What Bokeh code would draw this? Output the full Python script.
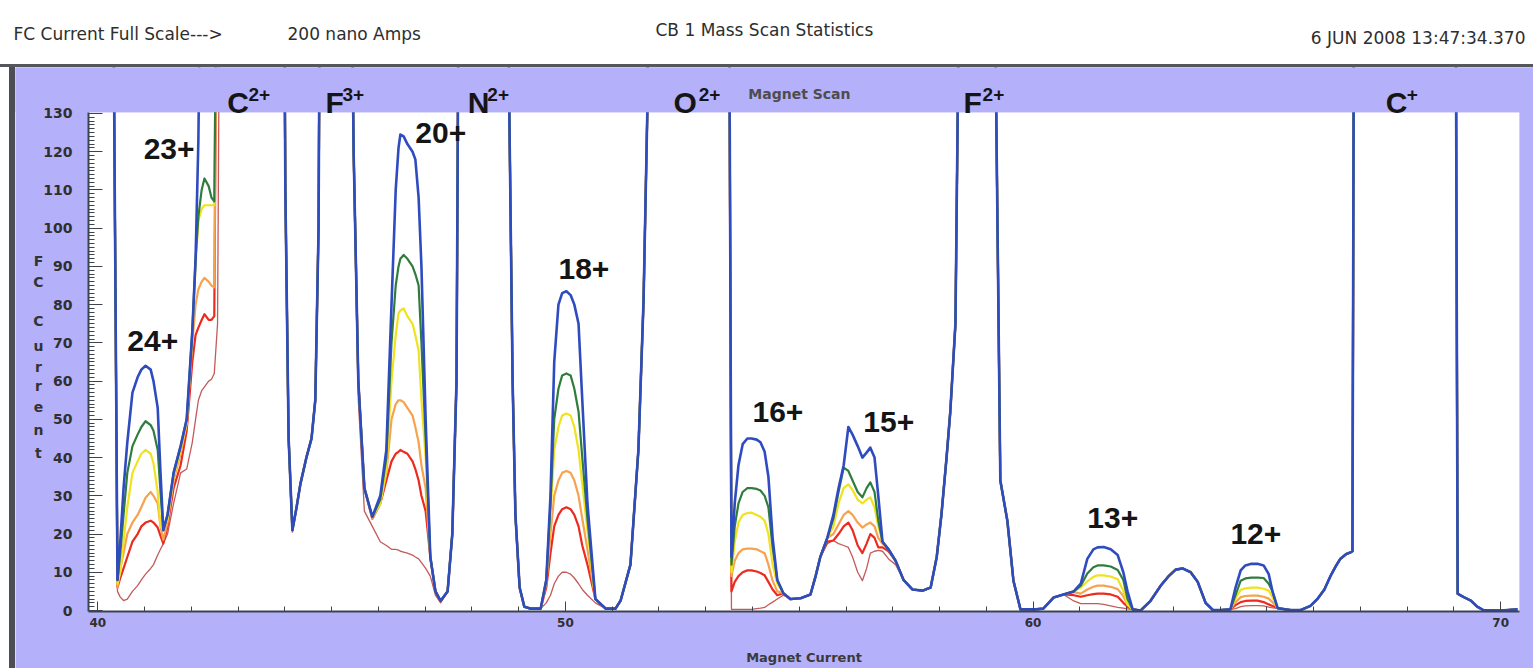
from bokeh.plotting import figure
from bokeh.models import Range1d, Label, SingleIntervalTicker, Div, BoxAnnotation
from bokeh.layouts import column, row
from bokeh.embed import file_html
from bokeh.resources import INLINE

# ---------------- data ----------------
magnet_current = [
    # C2+ / 24+ / 23+
    40.31, 40.42, 40.48, 40.55, 40.63, 40.74, 40.85, 40.93, 41.02, 41.13,
    41.19, 41.28, 41.34, 41.40, 41.49, 41.62, 41.77, 41.90, 42.02, 42.09,
    42.15, 42.22, 42.28, 42.37, 42.43, 42.49, 42.56, 42.62,
    # valley before F3+
    43.97, 44.01, 44.08, 44.16, 44.25, 44.33, 44.46, 44.57, 44.65, 44.72, 44.76,
    # 20+
    45.40, 45.47, 45.57, 45.70, 45.87, 46.04, 46.17, 46.28, 46.37, 46.43,
    46.47, 46.54, 46.62, 46.73, 46.79, 46.86, 46.92, 47.01, 47.11, 47.22,
    47.33, 47.48, 47.58, 47.67, 47.73,
    # 18+
    48.74, 48.80, 48.87, 48.93, 49.02, 49.12, 49.25, 49.47, 49.59, 49.68,
    49.76, 49.85, 49.93, 50.02, 50.11, 50.19, 50.28, 50.36, 50.47, 50.64,
    50.86, 51.07, 51.18, 51.39, 51.56, 51.67, 51.75, 51.82,
    # 16+ / 15+
    53.49, 53.55, 53.62, 53.70, 53.79, 53.89, 53.98, 54.09, 54.17, 54.26,
    54.34, 54.43, 54.53, 54.66, 54.81, 55.03, 55.24, 55.35, 55.45, 55.60,
    55.73, 55.84, 55.95, 56.05, 56.14, 56.25, 56.35, 56.44, 56.52, 56.61,
    56.69, 56.78, 56.91, 57.06, 57.23, 57.42, 57.64, 57.81, 57.94, 58.04,
    58.15, 58.23, 58.34, 58.45,
    # 13+ / 12+
    59.15, 59.24, 59.30, 59.45, 59.58, 59.73, 60.05, 60.22, 60.44, 60.65,
    60.87, 61.02, 61.16, 61.29, 61.38, 61.51, 61.66, 61.81, 61.93, 62.02,
    62.13, 62.30, 62.51, 62.73, 62.90, 63.05, 63.20, 63.37, 63.52, 63.69,
    63.84, 64.01, 64.22, 64.33, 64.44, 64.54, 64.67, 64.80, 64.93, 65.04,
    65.12, 65.23, 65.51, 65.72, 65.93, 66.08, 66.23, 66.36, 66.47, 66.57,
    66.70, 66.79, 66.83, 66.87,
    # after C+
    69.03, 69.08, 69.21, 69.36, 69.50, 69.63, 70.00, 70.36,
]

fc_blue = [
    200, 8, 18, 32, 44, 57, 61, 63, 64, 63,
    60, 53, 36, 21, 25, 36, 43, 50, 73, 92,
    123, 200, 200, 200, 200, 200, 200, 200,
    200, 110, 45, 21, 27, 33, 40, 45, 55, 100, 200,
    200, 120, 60, 32, 24.5, 30, 42, 80, 110, 121,
    124.5, 124, 122, 120, 118, 108, 90, 50, 14, 5,
    2.5, 5, 20, 60, 200,
    200, 130, 60, 25, 6, 1, 0.5, 0.5, 8, 30,
    65, 80, 83, 83.5, 82.5, 80, 75, 55, 28, 3,
    0.5, 0.5, 2.6, 12, 42, 81, 130, 200,
    200, 14, 28, 38, 43.5, 45, 45, 44.7, 44, 41.5,
    35, 19, 8, 4.5, 3, 3.2, 4.2, 9, 14, 19,
    25, 32, 38, 48, 46, 43, 40, 41.3, 42.6, 40,
    30, 18, 16, 13, 8, 5.5, 5.2, 6, 14, 25,
    40, 52, 75, 200,
    200, 100, 34, 23.5, 7.8, 0.3, 0.3, 0.5, 3.4, 4.2,
    5, 7, 13.5, 16, 16.5, 16.6, 16, 14.5, 10, 5,
    0.3, 0, 2.5, 6.5, 9, 10.7, 11, 10, 7.5, 2,
    0.2, 0.1, 0.3, 6, 10.5, 11.8, 12.2, 12.2, 11.8, 9.5,
    5, 0.6, 0.1, 0.1, 1.2, 3, 5.5, 9, 11.5, 13.5,
    14.8, 15.2, 15.5, 200,
    200, 4.4, 3.5, 2.6, 1, 0.1, 0, 0.3,
]

fc_green = [
    200, 8, 15, 25, 36, 43, 46, 48, 49.5, 48.5,
    47, 42, 31, 21, 25, 36, 43, 50, 73, 92,
    103, 110, 113, 111, 108, 107, 200, 200,
    200, 110, 45, 21, 27, 33, 40, 45, 55, 100, 200,
    200, 120, 60, 32, 24.5, 29, 40, 70, 85, 90,
    92, 93, 92, 90, 88, 85, 70, 45, 14, 5,
    2.5, 5, 20, 60, 200,
    200, 130, 60, 25, 6, 1, 0.5, 0.5, 8, 28,
    50, 58, 61.5, 62, 61.5, 58, 52, 40, 24, 3,
    0.5, 0.5, 2.6, 12, 42, 81, 130, 200,
    200, 12, 22, 28, 31, 32, 32, 31.8, 31.4, 30,
    27, 16.5, 8, 4.5, 3, 3.2, 4.2, 9, 14, 19,
    24, 31, 37.4, 36.5, 34, 31, 29.6, 32, 33.5, 31,
    23.5, 18, 16, 13, 8, 5.5, 5.2, 6, 14, 25,
    40, 52, 75, 200,
    200, 100, 34, 23.5, 7.8, 0.3, 0.3, 0.5, 3.4, 4.2,
    5, 6.5, 9.7, 11.3, 11.8, 11.8, 11.5, 10.6, 8, 3,
    0.3, 0, 2.5, 6.5, 9, 10.7, 11, 10, 7.5, 2,
    0.2, 0.1, 0.3, 4, 7.8, 8.4, 8.6, 8.6, 8.5, 7,
    5, 0.6, 0.1, 0.1, 1.2, 3, 5.5, 9, 11.5, 13.5,
    14.8, 15.2, 15.5, 200,
    200, 4.4, 3.5, 2.6, 1, 0.1, 0, 0.3,
]

fc_yellow = [
    200, 7, 10, 18, 27, 36, 39, 41, 42, 41,
    38.5, 31, 22, 21, 24, 35, 42, 49, 72, 90,
    102, 105, 106, 106, 106, 106, 200, 200,
    200, 110, 45, 21, 27, 33, 40, 45, 55, 100, 200,
    200, 120, 60, 32, 24.5, 28, 37, 60, 72, 77.7,
    78.5, 79, 77, 75, 72, 68, 55, 40, 14, 5,
    2.5, 5, 20, 60, 200,
    200, 130, 60, 25, 6, 1, 0.5, 0.5, 8, 25,
    42, 48, 51, 51.5, 51, 48, 42, 33, 21, 3,
    0.5, 0.5, 2.6, 12, 42, 81, 130, 200,
    200, 10, 18, 23, 25, 25.5, 25.6, 25, 24.5, 23.5,
    20, 12, 7, 4.5, 3, 3.2, 4.2, 9, 14, 19,
    22, 28, 32, 33, 31.5, 29, 28, 29, 29.6, 27,
    22, 18, 16, 13, 8, 5.5, 5.2, 6, 14, 25,
    40, 52, 75, 200,
    200, 100, 34, 23.5, 7.8, 0.3, 0.3, 0.5, 3.4, 4.2,
    5, 6, 7.6, 8.8, 9.2, 9.2, 8.9, 8.2, 5.2, 1.5,
    0.3, 0, 2.5, 6.5, 9, 10.7, 11, 10, 7.5, 2,
    0.2, 0.1, 0.3, 3.2, 5.4, 5.8, 6, 6, 5.7, 5.2,
    3.5, 0.6, 0.1, 0.1, 1.2, 3, 5.5, 9, 11.5, 13.5,
    14.8, 15.2, 15.5, 200,
    200, 4.4, 3.5, 2.6, 1, 0.1, 0, 0.3,
]

fc_orange = [
    200, 6, 11, 15, 20, 23, 25, 27, 29.5, 31,
    30, 28, 22, 18.5, 23, 34, 41, 49, 70, 80,
    84, 86, 87, 86, 85, 84.5, 200, 200,
    200, 110, 45, 21, 27, 33, 40, 45, 55, 100, 200,
    200, 120, 60, 32, 24, 28, 36, 50, 54, 55,
    55, 54.5, 53, 51, 48, 44, 38, 32, 14, 5,
    2.5, 5, 20, 60, 200,
    200, 130, 60, 25, 6, 1, 0.5, 0.5, 7, 20,
    30, 34, 36, 36.5, 36, 34, 30, 24, 16, 3,
    0.5, 0.5, 2.6, 12, 42, 81, 130, 200,
    200, 9, 13, 15, 16, 16.2, 16.2, 16, 15.5, 15,
    12, 7.8, 5, 4.5, 3, 3.2, 4.2, 9, 14, 19,
    20, 22.5, 25, 26, 25, 23, 21.7, 22.5, 23, 22,
    19, 17.5, 16, 13, 8, 5.5, 5.2, 6, 14, 25,
    40, 52, 75, 200,
    200, 100, 34, 23.5, 7.8, 0.3, 0.3, 0.5, 3.4, 4.2,
    4.8, 4.4, 5.5, 6.2, 6.5, 6.5, 6.2, 5.6, 3.8, 1.5,
    0.3, 0, 2.5, 6.5, 9, 10.7, 11, 10, 7.5, 2,
    0.2, 0.1, 0.3, 2.2, 3.5, 3.8, 3.9, 3.9, 3.6, 3.1,
    2.2, 0.6, 0.1, 0.1, 1.2, 3, 5.5, 9, 11.5, 13.5,
    14.8, 15.2, 15.5, 200,
    200, 4.4, 3.5, 2.6, 1, 0.1, 0, 0.3,
]

fc_red = [
    200, 6, 8.5, 11, 14, 18, 20, 22, 23, 23.5,
    23, 21.7, 19.5, 17.5, 22, 32, 38, 47, 65, 72,
    74, 76, 77.5, 76, 76, 77, 200, 200,
    200, 110, 45, 21, 27, 33, 40, 45, 55, 100, 200,
    200, 120, 60, 32, 24, 28, 34, 39, 41, 41.5,
    42, 41.5, 41, 39, 37, 34, 30, 26, 14, 5,
    2.5, 5, 20, 60, 200,
    200, 130, 60, 25, 6, 1, 0.5, 0.5, 6, 15,
    22, 25, 26.5, 27, 26.5, 25, 22, 17, 12, 3,
    0.5, 0.5, 2.6, 12, 42, 81, 130, 200,
    200, 5, 7.5, 9, 10, 10.5, 10.5, 10.2, 9.8, 9.2,
    7.5, 5.5, 4, 4.5, 3, 3.2, 4.2, 9, 14, 18,
    18.3, 20, 22, 23, 21, 17, 15, 17.5, 20, 19,
    16.5, 16.5, 15.5, 13, 8, 5.5, 5.2, 6, 14, 25,
    40, 52, 75, 200,
    200, 100, 34, 23.5, 7.8, 0.3, 0.3, 0.5, 3.4, 4.2,
    4, 3.6, 4, 4.3, 4.4, 4.4, 4.2, 3.6, 2, 1,
    0.3, 0, 2.5, 6.5, 9, 10.7, 11, 10, 7.5, 2,
    0.2, 0.1, 0.3, 1.4, 2.2, 2.5, 2.6, 2.6, 2.2, 1.6,
    1.2, 0.6, 0.1, 0.1, 1.2, 3, 5.5, 9, 11.5, 13.5,
    14.8, 15.2, 15.5, 200,
    200, 4.4, 3.5, 2.6, 1, 0.1, 0, 0.3,
]

fc_darkred = [
    200, 5, 3.5, 2.6, 3, 5, 6.5, 8, 9.5, 11,
    12, 14.5, 16, 17.5, 20, 28, 36, 37, 44, 50,
    55, 57.5, 58.5, 60, 60.5, 62, 75, 200,
    200, 110, 45, 20.5, 27, 33, 40, 45, 55, 100, 200,
    200, 120, 55, 26, 22, 18, 17, 16, 16, 15.8,
    15.5, 15.3, 15, 14.5, 14, 13.5, 12.5, 11, 9, 4,
    2, 5, 20, 60, 200,
    200, 130, 60, 25, 6, 1, 0.5, 0.5, 2, 4,
    7, 9, 10, 10, 9.5, 8.5, 7, 5.5, 4, 2,
    0.5, 0.5, 2.6, 12, 42, 81, 130, 200,
    200, 0.3, 0.3, 0.3, 0.3, 0.3, 0.3, 0.5, 0.6, 0.8,
    1.5, 2.2, 3, 4, 3, 3.2, 4.2, 9, 14, 17.5,
    18.3, 17.5, 17, 16.5, 14, 10, 7.8, 11, 15, 15.5,
    15.7, 15.5, 13.5, 12, 8, 5.5, 5.2, 6, 14, 25,
    40, 52, 75, 200,
    200, 100, 34, 23.5, 7.8, 0.3, 0.3, 0.5, 3.4, 4.2,
    2.5, 1.8, 1.8, 1.8, 1.8, 1.6, 1.2, 0.8, 0.6, 0.4,
    0.3, 0, 2.5, 6.5, 9, 10.7, 11, 10, 7.5, 2,
    0.2, 0.1, 0.3, 0.5, 1, 1.2, 1.3, 1.3, 1.2, 0.9,
    0.7, 0.6, 0.1, 0.1, 1.2, 3, 5.5, 9, 11.5, 13.5,
    14.8, 15.2, 15.5, 200,
    200, 4.4, 3.5, 2.6, 1, 0.1, 0, 0.3,
]

series_names = ["run 6", "run 5", "run 4", "run 3", "run 2", "run 1"]
series_colors = ["#c45a5a", "#ec2a1e", "#f6a24e", "#f0e21e", "#2f7d3c", "#2f4bc0"]
series_widths = [1.3, 2.2, 2.2, 2.2, 2.2, 2.6]

# peak labels: (text, superscript, x, y)
peak_labels = [
    ("24+", "", 40.63, 70.6), ("23+", "", 40.98, 120.6),
    ("C", "2+", 42.77, 132.9), ("F", "3+", 44.87, 132.9),
    ("20+", "", 46.79, 124.8), ("N", "2+", 47.91, 132.9),
    ("18+", "", 49.85, 89.4), ("O", "2+", 52.31, 132.9),
    ("16+", "", 54.00, 51.8), ("15+", "", 56.37, 49.2),
    ("F", "2+", 58.51, 132.9), ("13+", "", 61.16, 24.3),
    ("12+", "", 64.22, 20.1), ("C", "+", 67.54, 132.9),
]
sup_x = {42.77: 43.22, 44.87: 45.23, 47.91: 48.33, 52.31: 52.85, 58.51: 58.92, 67.54: 67.99}

all_series = [fc_darkred, fc_red, fc_orange, fc_yellow, fc_green, fc_blue]
for s in all_series:
    assert len(s) == len(magnet_current), len(s)

LAV = "#b5b0fa"
AXC = "#3c4450"
X_MIN, X_MAX = 39.8, 70.4     # white plotting window
Y_MIN, Y_MAX = -0.3, 130.3

# ---------------- header strip ----------------
header = figure(width=1533, height=64, x_range=Range1d(0, 1533), y_range=Range1d(0, 64),
                x_axis_type=None, y_axis_type=None, output_backend="svg",
                toolbar_location=None, min_border=0)
header.outline_line_color = None
header.grid.visible = False
header.background_fill_color = "white"
header.border_fill_color = "white"
for txt, hx, hy, al in [("FC Current Full Scale--->", 13, 31, "left"),
                        ("200 nano Amps", 287, 31, "left"),
                        ("CB 1 Mass Scan Statistics", 655, 35, "left"),
                        ("6 JUN 2008 13:47:34.370", 1525, 27, "right")]:
    header.add_layout(Label(x=hx, y=hy, text=txt, text_font="DejaVu Sans", text_font_size="17px",
                            text_color="#2e2e2e", text_align=al, text_baseline="middle"))

topline = Div(width=1533, height=3, margin=0, styles={"background-color": "#55555c"})
leftbar = Div(width=15, height=601, margin=0,
              styles={"background": "linear-gradient(to right, #ffffff 0px, #ffffff 9px, #4d4d55 9px, #4d4d55 15px)"})

# ---------------- main plot ----------------
p = figure(width=1518, height=601, x_range=Range1d(38.239, 70.702), y_range=Range1d(-15.17, 142.03),
           output_backend="svg", toolbar_location=None, min_border=0)
p.background_fill_color = LAV
p.border_fill_color = LAV
p.outline_line_color = None
p.grid.visible = False

p.add_layout(BoxAnnotation(left=X_MIN, right=X_MAX, bottom=Y_MIN, top=Y_MAX, fill_color="white",
                           fill_alpha=1.0, line_color=None, level="image"))

for ys, c, w, n in zip(all_series, series_colors, series_widths, series_names):
    p.line(magnet_current, ys, line_color=c, line_width=w, line_join="round", level="underlay")

# lavender band above the window hides the off-scale parts of the traces
p.add_layout(BoxAnnotation(left=38.0, right=71.0, bottom=Y_MAX, top=400, fill_color=LAV,
                           fill_alpha=1.0, line_color=None, level="glyph"))

p.yaxis.fixed_location = X_MIN
p.xaxis.fixed_location = Y_MIN
p.yaxis.bounds = (Y_MIN, Y_MAX)
p.xaxis.bounds = (X_MIN, X_MAX)
p.yaxis.ticker = SingleIntervalTicker(interval=10, num_minor_ticks=10)
p.xaxis.ticker = SingleIntervalTicker(interval=10, num_minor_ticks=10)
for ax in (p.xaxis, p.yaxis):
    ax.axis_line_color = AXC
    ax.axis_line_width = 2
    ax.major_tick_line_color = AXC
    ax.minor_tick_line_color = AXC
    ax.major_tick_out = 0
    ax.minor_tick_out = 0
    ax.major_label_text_font = "DejaVu Sans"
    ax.major_label_text_font_style = "bold"
    ax.major_label_text_color = "#2f2f2f"
p.yaxis.major_tick_in = 14
p.yaxis.minor_tick_in = 6
p.yaxis.major_label_text_font_size = "14px"
p.yaxis.major_label_standoff = 16
p.xaxis.major_tick_in = 10
p.xaxis.minor_tick_in = 5
p.xaxis.major_label_text_font_size = "12px"
p.xaxis.major_label_standoff = 6
p.xaxis.axis_label = "Magnet Current"
p.xaxis.axis_label_text_font = "DejaVu Sans"
p.xaxis.axis_label_text_font_style = "bold"
p.xaxis.axis_label_text_font_size = "13px"
p.xaxis.axis_label_text_color = "#3a3a3a"
p.xaxis.axis_label_standoff = 20

# stacked y-axis title "FC Current"
letters = ["F", "C", "C", "u", "r", "r", "e", "n", "t"]
letter_y = [91.5, 86.0, 75.8, 69.3, 63.8, 58.6, 53.1, 47.1, 41.3]
for ch, ly in zip(letters, letter_y):
    p.add_layout(Label(x=38.73, y=ly, text=ch, text_font="DejaVu Sans", text_font_size="14px",
                       text_font_style="bold", text_color="#333333",
                       text_align="center", text_baseline="middle"))

p.add_layout(Label(x=53.91, y=135.0, text="Magnet Scan", text_font="DejaVu Sans",
                   text_font_size="14px", text_font_style="bold", text_color="#4d4d4d",
                   text_align="left", text_baseline="middle"))

for base, sup, lx, ly in peak_labels:
    p.add_layout(Label(x=lx, y=ly, text=base, text_font="Liberation Sans", text_font_size="30px",
                       text_font_style="bold", text_color="#151515",
                       text_align="left", text_baseline="alphabetic"))
    if sup:
        p.add_layout(Label(x=sup_x[lx], y=ly + 2.0, text=sup, text_font="Liberation Sans",
                           text_font_size="19px", text_font_style="bold", text_color="#151515",
                           text_align="left", text_baseline="alphabetic"))

layout = column(header, topline, row(leftbar, p, spacing=0), spacing=0)
open("out.html", "w").write(file_html(layout, INLINE))
